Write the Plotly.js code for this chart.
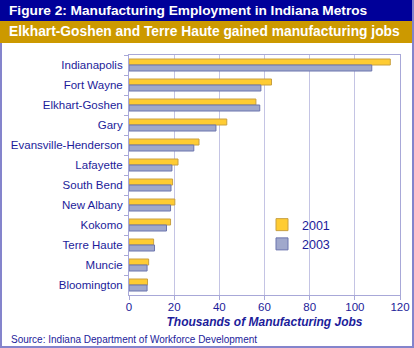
<!DOCTYPE html>
<html>
<head>
<meta charset="utf-8">
<script src="https://cdn.plot.ly/plotly-3.0.1.min.js"></script>
<style>html,body{margin:0;padding:0;background:#fff;}#chart{width:414px;height:348px;}</style>
</head>
<body>
<div id="chart"></div>
<script>
var metros = ["Indianapolis","Fort Wayne","Elkhart-Goshen","Gary","Evansville-Henderson","Lafayette","South Bend","New Albany","Kokomo","Terre Haute","Muncie","Bloomington"];
var jobs2001 = [115.7, 63.1, 56.2, 43.3, 31.0, 21.7, 19.3, 20.3, 18.4, 10.9, 8.7, 8.2];
var jobs2003 = [107.5, 58.4, 57.9, 38.5, 28.7, 19.0, 18.6, 18.4, 16.6, 11.3, 8.0, 8.0];
var xTicks = [0, 20, 40, 60, 80, 100, 120];

var W = 414, H = 348, L = 129, R = 14, T = 55, B = 53;
var pw = W - L - R, ph = H - T - B;
function px(x){ return (x - L) / pw; }
function py(y){ return (H - B - y) / ph; }

var textColor = "#1c1c9a";
var fontFam = "Liberation Sans, Arial, Helvetica, sans-serif";

var traces = [
  {type:"bar", orientation:"h", name:"2001", x:jobs2001, y:metros,
   marker:{color:"#FFCC33", line:{color:"#C8A040", width:1}}},
  {type:"bar", orientation:"h", name:"2003", x:jobs2003, y:metros,
   marker:{color:"#A0A8CC", line:{color:"#6B74AE", width:1}}}
];

var layout = {
  width: W, height: H,
  margin: {l:L, r:R, t:T, b:B, pad:0},
  paper_bgcolor: "#ffffff", plot_bgcolor: "#ffffff",
  font: {family: fontFam, size: 11.5, color: textColor},
  barmode: "group", bargap: 0.4, bargroupgap: 0,
  showlegend: true,
  legend: {x: px(262), y: py(210), xanchor:"left", yanchor:"top", traceorder:"normal",
           bgcolor:"rgba(0,0,0,0)", font:{size:12.5, color:textColor}, itemwidth:30, tracegroupgap:2},
  xaxis: {range:[0,120], tickvals:xTicks, ticktext:xTicks.map(String), ticks:"outside", ticklen:4,
          tickcolor:"#A8A8D8", showgrid:true, gridcolor:"#C4C4E4", gridwidth:1, zeroline:false,
          showline:true, linecolor:"#A8A8D8", linewidth:1, mirror:true, ticklabelstandoff:-3,
          tickfont:{size:11.5, color:textColor},
          title:{text:"<b><i>Thousands of Manufacturing Jobs</i></b>", font:{size:12, color:textColor}, standoff:5}},
  yaxis: {type:"category", autorange:"reversed", categoryorder:"array", categoryarray:metros,
          tickson:"boundaries", ticks:"outside", ticklen:4, tickcolor:"#A8A8D8", ticklabelstandoff:3,
          showline:true, linecolor:"#A8A8D8", linewidth:1, mirror:true, showgrid:false,
          tickfont:{size:11.5, color:textColor}},
  shapes: [
    {type:"rect", xref:"paper", yref:"paper", x0:px(0), x1:px(414), y0:py(0), y1:py(21), fillcolor:"#000099", line:{width:0}, layer:"below"},
    {type:"rect", xref:"paper", yref:"paper", x0:px(0), x1:px(414), y0:py(21), y1:py(43), fillcolor:"#CC9900", line:{width:0}, layer:"below"},
    {type:"rect", xref:"paper", yref:"paper", x0:px(0), x1:px(2), y0:py(43), y1:py(348), fillcolor:"#8484CC", line:{width:0}},
    {type:"rect", xref:"paper", yref:"paper", x0:px(412), x1:px(414), y0:py(0), y1:py(348), fillcolor:"#8484CC", line:{width:0}},
    {type:"rect", xref:"paper", yref:"paper", x0:px(0), x1:px(414), y0:py(346), y1:py(348), fillcolor:"#8484CC", line:{width:0}}
  ],
  annotations: [
    {xref:"paper", yref:"paper", x:px(7), y:py(10.5), xanchor:"left", yanchor:"middle", showarrow:false,
     text:"<b>Figure 2: Manufacturing Employment in Indiana Metros</b>", font:{size:13.7, color:"#ffffff", family:fontFam}},
    {xref:"paper", yref:"paper", x:px(7), y:py(32), xanchor:"left", yanchor:"middle", showarrow:false,
     text:"<b>Elkhart-Goshen and Terre Haute gained manufacturing jobs</b>", font:{size:13.8, color:"#ffffff", family:fontFam}},
    {xref:"paper", yref:"paper", x:px(9), y:py(339), xanchor:"left", yanchor:"middle", showarrow:false,
     text:"Source: Indiana Department of Workforce Development", font:{size:10, color:textColor, family:fontFam}}
  ]
};

Plotly.newPlot("chart", traces, layout, {displayModeBar:false, staticPlot:true});
</script>
</body>
</html>
